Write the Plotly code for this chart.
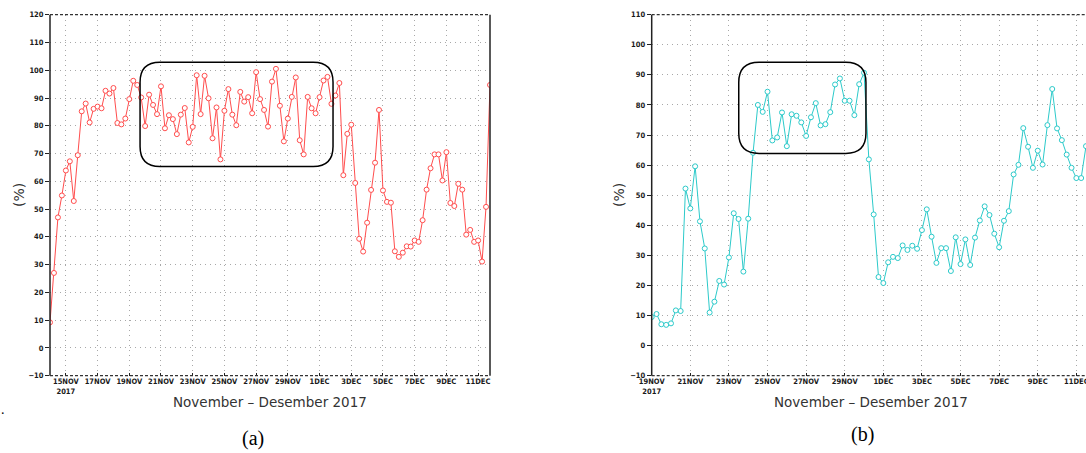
import pandas as pd
import plotly.graph_objects as go

# 6-hourly percentage series, panel (a) starts 14 Nov 2017 00 UTC
start_a = "2017-11-14 00:00"
values_a = [
    9.2, 27.0, 47.0, 54.9, 63.9, 67.2, 52.9, 69.4, 85.2, 88.0, 81.2, 86.1,
    86.9, 86.3, 92.6, 91.6, 93.6, 81.0, 80.5, 82.6, 89.6, 96.2, 94.7, 90.2,
    79.9, 91.2, 87.5, 84.2, 94.2, 79.1, 83.8, 82.4, 77.0, 84.0, 86.4, 74.0,
    79.6, 98.2, 84.2, 98.0, 89.9, 75.5, 86.6, 67.9, 85.4, 93.2, 84.0, 80.2,
    92.2, 88.7, 90.3, 84.5, 99.3, 89.6, 85.7, 79.7,
    95.9, 100.5, 87.2, 74.4, 82.6, 90.4, 97.4, 74.8, 69.7, 90.4, 86.3, 84.5,
    90.3, 96.3, 97.6, 87.9, 90.9, 95.4, 62.2, 77.1, 80.4, 59.4, 39.3, 34.7,
    45.1, 56.9, 66.7, 85.7, 56.7, 52.6, 52.3, 34.8, 32.8, 34.3, 36.6, 36.5,
    38.7, 38.2, 46.0, 57.0, 64.7, 69.7, 69.7, 60.3, 70.5, 52.2, 51.1, 59.1,
    57.0, 40.8, 42.5, 38.2, 38.7, 31.1, 50.8, 94.7,
]

# panel (b) starts 19 Nov 2017 00 UTC
start_b = "2017-11-19 00:00"
values_b = [
    9.5, 10.5, 7.1, 6.9, 7.4, 11.7, 11.5, 52.2, 45.6, 59.6,
    41.3, 32.3, 11.0, 14.6, 21.5, 20.3, 29.3, 44.0, 42.1, 24.6,
    42.2, 64.1, 80.0, 77.7, 84.4, 68.2, 69.2, 77.5, 66.3, 76.9,
    76.4, 74.2, 69.7, 75.9, 80.6, 73.2, 73.6, 77.6, 86.8, 88.8,
    81.4, 81.4, 76.6, 86.9, 90.7, 61.9, 43.6, 22.8, 20.8, 27.7,
    29.5, 29.1, 33.3, 31.8, 33.2, 32.2, 38.4, 45.3, 36.2, 27.5,
    32.4, 32.4, 24.8, 36.0, 27.1, 35.3, 26.8, 35.9, 41.6, 46.3,
    43.4, 37.2, 32.7, 41.5, 44.7, 56.9, 60.1, 72.3, 66.1, 59.1,
    64.8, 60.2, 73.3, 85.3, 72.2, 68.3, 63.5, 59.1, 55.7, 55.7,
    66.3,
]

ticks_a = pd.date_range("2017-11-15", "2017-12-11", freq="2D")
ticks_b = pd.date_range("2017-11-19", "2017-12-11", freq="2D")
yrange_a = [-10, 120]
yrange_b = [-10, 110]
x_title = "November \u2013 Desember 2017"
y_title = "(%)"

# highlighted windows: (start day offset, end day offset, low %, high %)
box_a = (5.68, 17.85, 65.3, 102.9)
box_b = (4.51, 11.10, 63.9, 94.2)

RED = "#ff4d4d"
CYAN = "#2ccaca"

times_a = pd.date_range(start_a, periods=len(values_a), freq="6h")
times_b = pd.date_range(start_b, periods=len(values_b), freq="6h")


def tick_text(ticks):
    out = []
    for i, d in enumerate(ticks):
        s = f"{d.day}{d.strftime('%b').upper()}"
        if i == 0:
            s += f"<br>{d.year}"
        out.append(s)
    return out


fig = go.Figure()
fig.add_trace(go.Scatter(
    x=times_a, y=values_a, mode="lines+markers", xaxis="x", yaxis="y",
    line=dict(color=RED, width=1),
    marker=dict(symbol="circle", size=5, color="white",
                line=dict(color=RED, width=1)),
    showlegend=False,
))
fig.add_trace(go.Scatter(
    x=times_b, y=values_b, mode="lines+markers", xaxis="x2", yaxis="y2",
    line=dict(color=CYAN, width=1),
    marker=dict(symbol="circle", size=5, color="white",
                line=dict(color=CYAN, width=1)),
    showlegend=False,
))

ydom = [1 - 375.7 / 453, 1 - 14.7 / 453]
grid = dict(showgrid=True, gridcolor="#a8a8a8", griddash="1px,4px", gridwidth=1,
            zeroline=False, showline=False, automargin=False,
            ticklabeloverflow="allow")
tickfont = dict(family="DejaVu Sans Condensed, DejaVu Sans", size=7.5,
                color="#1a1a1a", weight="bold")

fig.update_layout(
    width=1086, height=453,
    margin=dict(l=0, r=0, t=0, b=0, autoexpand=False),
    paper_bgcolor="white", plot_bgcolor="white",
    xaxis=dict(domain=[50 / 1086, 490 / 1086], type="date",
               range=[times_a[0], times_a[-1]],
               tickvals=list(ticks_a), ticktext=tick_text(ticks_a),
               ticks="inside", ticklen=3, tickcolor="#222",
               tickfont=tickfont, anchor="y", **grid),
    yaxis=dict(domain=ydom, range=yrange_a, tickmode="linear", tick0=-10,
               dtick=10, ticks="outside", ticklen=4, tickcolor="#222",
               tickfont=tickfont, anchor="x", **grid),
    xaxis2=dict(domain=[651.7 / 1086, 1.0], type="date",
                range=[times_b[0], times_b[-1]],
                tickvals=list(ticks_b), ticktext=tick_text(ticks_b),
                ticks="inside", ticklen=3, tickcolor="#222",
                tickfont=tickfont, anchor="y2", **grid),
    yaxis2=dict(domain=ydom, range=yrange_b, tickmode="linear", tick0=-10,
                dtick=10, ticks="outside", ticklen=4, tickcolor="#222",
                tickfont=tickfont, anchor="x2", **grid),
)

# frame: solid sides, dashed top and bottom
def frame(xa, ya, right=True):
    xr, yr = f"{xa} domain", f"{ya} domain"
    solid = dict(color="#222", width=1.5)
    dashed = dict(color="#333", width=1.2, dash="3px,2px")
    fig.add_shape(type="line", xref=xr, yref=yr, x0=0, x1=0, y0=0, y1=1, line=solid)
    if right:
        fig.add_shape(type="line", xref=xr, yref=yr, x0=1, x1=1, y0=0, y1=1, line=solid)
    fig.add_shape(type="line", xref=xr, yref=yr, x0=0, x1=1, y0=1, y1=1, line=dashed)
    fig.add_shape(type="line", xref=xr, yref=yr, x0=0, x1=1, y0=0, y1=0, line=dashed)


frame("x", "y", right=True)
frame("x2", "y2", right=False)


def rounded_box(start, box, rx_days, ry, xref, yref):
    d0, d1, lo, hi = box
    t0 = pd.Timestamp(start)
    epoch = pd.Timestamp("1970-01-01")
    ms = lambda d: (t0 + pd.Timedelta(days=d) - epoch) / pd.Timedelta(milliseconds=1)
    x0, x1 = ms(d0), ms(d1)
    xi0, xi1 = ms(d0 + rx_days), ms(d1 - rx_days)
    path = (f"M {xi0},{hi} L {xi1},{hi} Q {x1},{hi} {x1},{hi - ry} "
            f"L {x1},{lo + ry} Q {x1},{lo} {xi1},{lo} "
            f"L {xi0},{lo} Q {x0},{lo} {x0},{lo + ry} "
            f"L {x0},{hi - ry} Q {x0},{hi} {xi0},{hi} Z")
    fig.add_shape(type="path", path=path, xref=xref, yref=yref,
                  line=dict(color="black", width=1.5))


rounded_box(start_a, box_a, 1.25, 7.2, "x", "y")
rounded_box(start_b, box_b, 1.05, 6.7, "x2", "y2")


def label(px, py, text, font, angle=0):
    fig.add_annotation(x=px / 1086, y=1 - py / 453, xref="paper", yref="paper",
                       xanchor="center", yanchor="middle", text=text,
                       textangle=angle, showarrow=False, font=font)


title_font = dict(family="DejaVu Sans", size=13.5, color="#333")
for cx in [270, 871]:
    label(cx, 402, x_title, title_font)
pct_font = dict(family="DejaVu Sans", size=14, color="#333")
for cx in [19, 619]:
    label(cx, 195, y_title, pct_font, angle=-90)

panel_font = dict(family="Liberation Serif", size=20, color="black")
label(253, 438, "(a)", panel_font)
label(862, 434, "(b)", panel_font)
label(3, 409, ".", dict(family="Liberation Serif", size=14, color="black"))

fig.write_html("out.html")
